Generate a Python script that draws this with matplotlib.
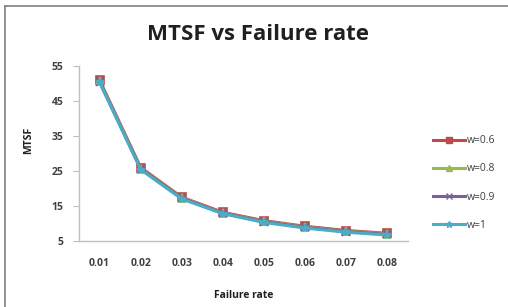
import matplotlib
matplotlib.use("Agg")
import matplotlib.pyplot as plt
from matplotlib.lines import Line2D

categories = ["0.01", "0.02", "0.03", "0.04", "0.05", "0.06", "0.07", "0.08"]
w06 = [51.0, 26.0, 17.5, 13.2, 10.8, 9.2, 8.0, 7.2]
w08 = [50.7, 25.7, 17.3, 13.0, 10.6, 9.0, 7.8, 7.0]
w09 = [50.5, 25.6, 17.2, 12.9, 10.5, 8.9, 7.7, 6.9]
w1 = [50.3, 25.4, 17.0, 12.8, 10.3, 8.7, 7.5, 6.7]
yticks = [5, 15, 25, 35, 45, 55]

plt.rcParams['font.family'] = ['Open Sans', 'DejaVu Sans']

fig = plt.figure(figsize=(5.08, 3.07), dpi=100)
ax = fig.add_axes([79/508, 1-241/307, (408-79)/508, (241-66)/307])

x = list(range(len(categories)))
series = [
    ("w=0.6", w06, "#BE4B48", "s", 6),
    ("w=0.8", w08, "#98B954", "^", 6),
    ("w=0.9", w09, "#7D5FA0", "x", 6),
    ("w=1", w1, "#4BACC6", "*", 6),
]
handles = []
for label, vals, col, mk, ms in series:
    ax.plot(x, vals, color=col, lw=2.2, marker=mk, ms=ms, mfc=col, mec=col, mew=1.2)
    handles.append(Line2D([0], [0], color=col, lw=2.2, marker=mk, ms=5, mfc=col, mec=col))

ax.set_xlim(-0.5, len(categories) - 0.5)
ax.set_ylim(5, 55)
ax.set_yticks(yticks)
ax.set_xticks(x)
ax.set_xticklabels(categories)
for s in ["top", "right"]:
    ax.spines[s].set_visible(False)
for s in ["left", "bottom"]:
    ax.spines[s].set_color("#BFBFBF")
    ax.spines[s].set_linewidth(1.0)
ax.tick_params(axis="y", length=4, color="#BFBFBF", labelsize=7.5, labelcolor="#404040", pad=7)
ax.tick_params(axis="x", length=0, labelsize=7.5, labelcolor="#404040", pad=12)
for t in ax.get_xticklabels() + ax.get_yticklabels():
    t.set_fontweight("bold")

ax.set_xlabel("Failure rate", fontsize=7.5, fontweight="bold", color="#202020", labelpad=15)
fig.text(29/508, 1-140/307, "MTSF", rotation=90, fontsize=7.5, fontweight="bold",
         color="#202020", ha="center", va="center")

fig.text(258/508, 1-34/307, "MTSF vs Failure rate", fontsize=16, fontweight="bold",
         color="#202020", ha="center", va="center")

leg = fig.legend(handles, [s[0] for s in series], loc="center left",
                 bbox_to_anchor=(424/508, 1-183/307), frameon=False,
                 fontsize=7.5, handlelength=3.0, labelspacing=1.65,
                 handletextpad=0.2, labelcolor="#404040")

# chart border (left and top visible)
fig.add_artist(Line2D([5/508, 5/508], [0, 1-6/307], color="#7F7F7F", lw=1.2, transform=fig.transFigure))
fig.add_artist(Line2D([5/508, 1], [1-6/307, 1-6/307], color="#7F7F7F", lw=1.2, transform=fig.transFigure))

fig.savefig("out.png", dpi=100)
